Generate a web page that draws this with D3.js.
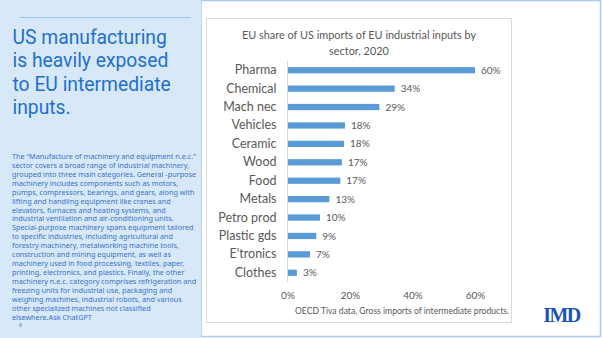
<!DOCTYPE html>
<html><head><meta charset="utf-8">
<script src="https://cdn.jsdelivr.net/npm/d3@7"></script>
<style>body{margin:0;background:#fff;}svg{display:block;}</style>
</head><body>
<script>
const categories = ["Pharma","Chemical","Mach nec","Vehicles","Ceramic","Wood","Food","Metals","Petro prod","Plastic gds","E'tronics","Clothes"];
const shares = [60, 34.3, 29.4, 18.4, 18.1, 17.4, 16.9, 13.4, 10.4, 9.2, 7.2, 3.0];
const shareLabels = ["60%","34%","29%","18%","18%","17%","17%","13%","10%","9%","7%","3%"];
const tickValues = [0, 20, 40, 60];
const chartTitle = ["EU share of US imports of EU industrial inputs by", "sector, 2020"];
const sourceNote = "OECD Tiva data, Gross imports of intermediate products.";
const headline = ["US manufacturing", "is heavily exposed", "to EU intermediate", "inputs."];
const bodyLines = [
 "The \u201cManufacture of machinery and equipment n.e.c.\u201d",
 "sector covers a broad range of industrial machinery,",
 "grouped into three main categories. General -purpose",
 "machinery includes components such as motors,",
 "pumps, compressors, bearings, and gears, along with",
 "lifting and handling equipment like cranes and",
 "elevators, furnaces and heating systems, and",
 "industrial ventilation and air-conditioning units.",
 "Special-purpose machinery spans equipment tailored",
 "to specific industries, including agricultural and",
 "forestry machinery, metalworking machine tools,",
 "construction and mining equipment, as well as",
 "machinery used in food processing, textiles, paper,",
 "printing, electronics, and plastics. Finally, the other",
 "machinery n.e.c. category comprises refrigeration and",
 "freezing units for industrial use, packaging and",
 "weighing machines, industrial robots, and various",
 "other specialized machines not classified",
 "elsewhere.Ask ChatGPT"
];

const W = 602, H = 338;
const svg = d3.select("body").append("svg").attr("width", W).attr("height", H);

// slide frame
svg.append("rect").attr("x",0).attr("y",0).attr("width",W).attr("height",H).attr("fill","#ffffff");
svg.append("rect").attr("x",201).attr("y",0.5).attr("width",399.5).attr("height",336).attr("fill","none").attr("stroke","#a9cbee").attr("stroke-width",1.5);
svg.append("rect").attr("x",0).attr("y",0).attr("width",201).attr("height",H).attr("fill","#d7e9f8");

// left panel
svg.append("line").attr("x1",20).attr("x2",191).attr("y1",17.5).attr("y2",17.5).attr("stroke","#9cc4ec").attr("stroke-width",1);
svg.append("g").selectAll("text").data(headline).join("text")
  .attr("x",12.5).attr("y",(d,i)=>44+i*23.3)
  .attr("font-family","Roboto, 'Liberation Sans', sans-serif").attr("font-size",19.3)
  .attr("fill","#1f6fd1").text(d=>d);
svg.append("g").selectAll("text").data(bodyLines).join("text")
  .attr("x",12).attr("y",(d,i)=>158.8+i*8.95)
  .attr("font-family","'Noto Sans', 'Open Sans', sans-serif").attr("font-size",7.25)
  .attr("fill","#3a72cc").text(d=>d);
svg.append("text").attr("x",19).attr("y",327).attr("font-family","'Noto Sans', sans-serif").attr("font-size",5).attr("fill","#3a72cc").text("6");

// chart box
svg.append("rect").attr("x",206.5).attr("y",18.5).attr("width",305).attr("height",304).attr("fill","#fff").attr("stroke","#d9d9d9").attr("stroke-width",1);

const font = "Lato, 'Open Sans', sans-serif";
svg.append("g").selectAll("text").data(chartTitle).join("text")
  .attr("x",359).attr("y",(d,i)=>39+i*15.5).attr("text-anchor","middle")
  .attr("font-family",font).attr("font-size",10.9).attr("fill","#595959").text(d=>d);

const x = d3.scaleLinear().domain([0,60]).range([287.5,475]);
const y = d3.scaleBand().domain(categories).range([61,282]).paddingInner(0.66).paddingOuter(0.33);

const g = svg.append("g");
g.selectAll("rect.bar").data(categories).join("rect").attr("class","bar")
  .attr("x",x(0)).attr("y",d=>y(d)).attr("height",y.bandwidth())
  .attr("width",(d,i)=>x(shares[i])-x(0)).attr("fill","#5b9bd5");
g.selectAll("text.val").data(categories).join("text").attr("class","val")
  .attr("x",(d,i)=>x(shares[i])+6).attr("y",d=>y(d)+y.bandwidth()/2).attr("dy","0.36em")
  .attr("font-family",font).attr("font-size",10).attr("fill","#595959").text((d,i)=>shareLabels[i]);

const yAxis = svg.append("g").attr("transform",`translate(${x(0)},0)`)
  .call(d3.axisLeft(y).tickSize(0).tickPadding(11));
yAxis.select(".domain").attr("stroke","#d9d9d9").attr("d","M0,61V282");
yAxis.selectAll("text").attr("font-family",font).attr("font-size",12.5).attr("fill","#595959");

const xAxis = svg.append("g").attr("transform","translate(0,282)")
  .call(d3.axisBottom(x).tickValues(tickValues).tickSize(0).tickPadding(10).tickFormat(d=>d+"%"));
xAxis.select(".domain").remove();
xAxis.selectAll("text").attr("font-family",font).attr("font-size",10).attr("fill","#595959");

svg.append("text").attr("x",509).attr("y",314).attr("text-anchor","end")
  .attr("font-family",font).attr("font-size",8.6).attr("fill","#595959").text(sourceNote);

// logo
svg.append("text").attr("x",561.5).attr("y",322).attr("text-anchor","middle")
  .attr("font-family","'Liberation Serif', 'DejaVu Serif', serif").attr("font-weight","bold")
  .attr("font-size",20).attr("letter-spacing",-1.5).attr("fill","#1a55b5").text("IMD");
</script>
</body></html>
